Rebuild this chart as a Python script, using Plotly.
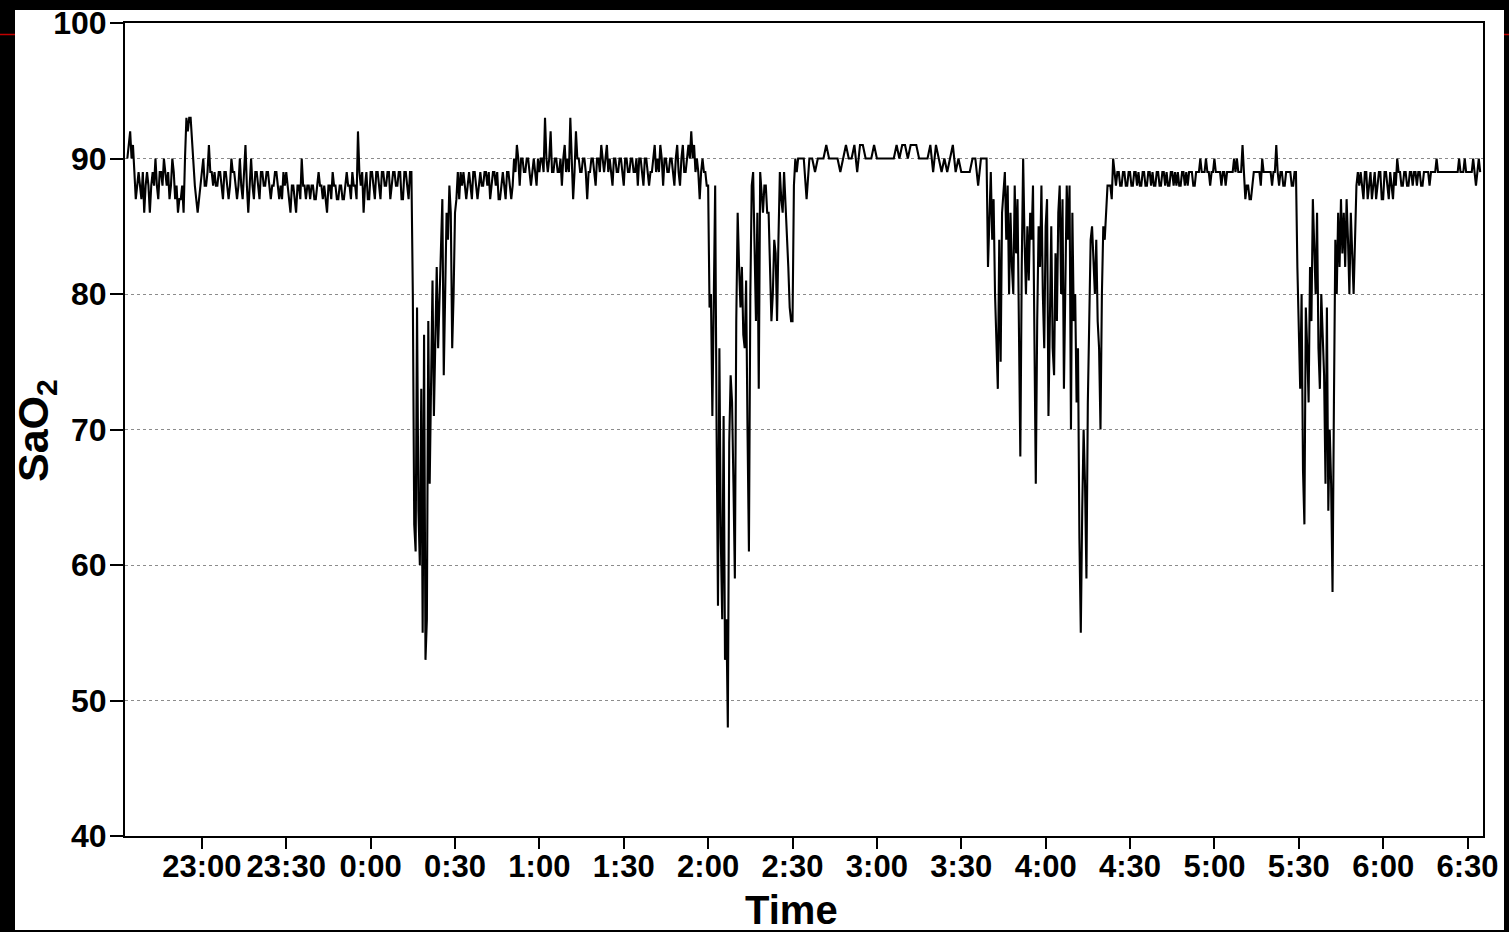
import pandas as pd
import plotly.graph_objects as go

# ---- data: SaO2 readings, recorded in segments (start time, sampling step, values) ----
seg1_start, seg1_step = "2020-01-01 22:33:30", "30s"
seg1 = [90, 91, 92, 90, 91, 89, 87, 88, 89, 88, 87, 89, 86, 88, 89, 88, 86, 88, 89, 88,
        90, 88, 87, 89, 89, 88, 90, 89, 88, 89, 87, 88, 90, 89, 87, 88, 86, 87, 87, 88,
        86, 90, 93, 92, 93, 93, 91, 89, 88, 87, 86, 87, 88, 89, 90, 88, 88, 89, 91, 89,
        89, 88, 89, 88, 88, 89, 89, 88, 87, 89, 89, 88, 87, 88, 90, 89, 89, 88, 87, 88,
        90, 88, 87, 89, 91, 88, 86, 88, 90, 88, 87, 89, 89, 88, 87, 89, 89, 88, 88, 89,
        89, 88, 87, 88, 88, 89, 89, 88, 87, 88, 87, 89, 88, 89, 88, 87, 86, 88, 88, 87,
        86, 88, 88, 87, 90, 88, 88, 87, 88, 88, 87, 88, 88, 87, 87, 88, 89, 88, 88, 87,
        88, 87, 86, 88, 88, 87, 89, 88, 88, 87, 87, 88, 88, 87, 87, 88, 89, 88, 88, 87,
        89, 88, 88, 87, 92, 89, 88, 89, 86, 88, 89, 87, 87, 89, 89, 88, 87, 89, 89, 88,
        87, 89, 89, 88, 88, 89, 89, 87, 88, 89, 89, 88, 88, 89, 89, 87, 87, 89, 89, 88,
        87, 89, 89]

dip1_start, dip1_step = "2020-01-02 00:15:00", "30s"
dip1 = [80, 63, 61, 79, 64, 60, 73, 55, 77, 53,
        56, 78, 66, 72, 81, 71, 76, 82, 76, 80,
        85, 87, 74, 80, 86, 84, 88, 86, 76, 80,
        86, 87, 89, 87, 89, 88]

seg2_start, seg2_step = "2020-01-02 00:33:00", "30s"
seg2 = [89, 88, 87, 88, 89, 88, 87, 89, 89, 88, 87, 88, 89, 88, 88, 89, 89, 88, 89, 87,
        88, 89, 89, 88, 89, 87, 87, 88, 89, 88, 87, 89, 89, 88, 87, 88, 90, 89, 91, 90,
        88, 90, 90, 89, 89, 90, 90, 89, 88, 89, 90, 89, 88, 90, 89, 90, 90, 89, 93, 90,
        89, 90, 92, 89, 89, 90, 90, 89, 89, 90, 88, 90, 91, 89, 90, 89, 93, 90, 87, 89,
        92, 90, 90, 89, 89, 90, 90, 89, 87, 89, 89, 90, 90, 89, 88, 90, 90, 89, 91, 90,
        89, 90, 91, 89, 90, 89, 88, 90, 90, 89, 89, 90, 90, 89, 88, 90, 90, 89, 89, 90,
        90, 89, 89, 90, 88, 90, 90, 89, 88, 90, 90, 89, 88, 89, 89, 90, 91, 89, 90, 89,
        91, 90, 88, 90, 90, 89, 89, 90, 90, 89, 88, 90, 91, 89, 88, 90, 91, 89, 89, 90,
        91, 90, 92, 90, 91, 89, 90, 89, 87, 89, 90, 89, 89, 88]

dip2_start, dip2_step = "2020-01-02 02:00:00", "30s"
dip2 = [88, 79, 80, 71, 80, 88, 70, 57, 76, 62,
        56, 71, 53, 56, 48, 69, 74, 72, 66, 59,
        78, 86, 82, 79, 82, 77, 76, 81, 70, 61,
        80, 88, 89, 84, 78, 86, 73, 89, 87, 86,
        88, 88, 86, 86, 82, 78, 80, 84, 83, 78,
        84, 89, 87, 86, 89, 87, 85, 82, 79, 78,
        78, 88, 90, 89, 90, 90]

seg3_start, seg3_step = "2020-01-02 02:33:00", "60s"
seg3 = [90, 90, 87, 90, 90, 89, 90, 90, 90, 91,
        90, 90, 90, 90, 89, 90, 91, 90, 90, 91,
        89, 91, 91, 90, 90, 90, 91, 90, 90, 90,
        90, 90, 90, 90, 91, 90, 91, 91, 90, 91,
        91, 91, 90, 90, 90, 90, 91, 89, 91, 90,
        89, 90, 89, 90, 91, 89, 90, 89, 89, 89,
        89, 90, 90, 88, 90, 90]

dip3_start, dip3_step = "2020-01-02 03:39:00", "30s"
dip3 = [90, 82, 86, 89, 84, 87, 80, 76, 73, 84,
        75, 86, 88, 89, 84, 88, 80, 86, 82, 80,
        88, 83, 87, 75, 68, 82, 90, 84, 80, 85,
        81, 86, 84, 88, 76, 66, 78, 85, 82, 88,
        80, 76, 85, 87, 71, 80, 85, 76, 74, 83,
        78, 86, 88, 80, 87, 73, 82, 88, 84, 88,
        70, 86, 78, 80, 72, 76, 62, 55, 64, 70,
        66, 59, 72, 80, 84, 85, 82, 80, 84, 78,
        76, 70, 80, 85, 84, 86, 88, 88]

seg4_start, seg4_step = "2020-01-02 04:23:00", "30s"
seg4 = [88, 87, 90, 89, 88, 89, 89, 88, 88, 89, 89, 88, 88, 89, 89, 88, 88, 89, 89, 88,
        89, 88, 88, 89, 89, 88, 88, 89, 89, 88, 89, 88, 88, 89, 89, 88, 88, 89, 89, 88,
        89, 88, 88, 89, 89, 88, 89, 88, 89, 88, 88, 89, 89, 88, 89, 88, 89, 89, 89, 88,
        88, 89, 89, 89, 90, 89, 89, 89, 90, 89, 89, 88, 89, 89, 90, 89, 89, 89, 89, 88,
        89, 89, 88, 89, 89, 89, 89, 89, 90, 89, 90, 89, 89, 89, 91, 89, 87, 88, 88, 87,
        87, 88, 89, 89, 89, 89, 89, 88, 90, 89, 89, 89, 89, 89, 89, 88, 89, 89, 91, 89,
        88, 89, 89, 88, 88, 89, 89, 89, 89, 88, 88, 89]

dip4_start, dip4_step = "2020-01-02 05:29:00", "30s"
dip4 = [89, 82, 78, 73, 80, 67, 63, 79, 76, 72,
        82, 78, 87, 84, 80, 86, 76, 73, 80, 77,
        74, 66, 79, 64, 70, 66, 58, 72, 84, 80,
        86, 82, 87, 83, 86, 82, 87, 84, 80, 86,
        83, 80, 84, 88, 89, 88]

seg5_start, seg5_step = "2020-01-02 05:52:00", "30s"
seg5 = [89, 88, 87, 89, 89, 87, 88, 89, 87, 88, 89, 87, 88, 89, 89, 87, 87, 89, 89, 88,
        87, 89, 88, 87, 89, 88, 90, 89, 89, 88, 88, 89, 89, 88, 88, 89, 89, 88, 89, 89,
        88, 89, 89, 88, 88, 89, 89, 89, 89, 88, 89, 89, 89, 89, 90, 89, 89, 89, 89, 89,
        89, 89, 89, 89, 89, 89, 89, 89, 89, 89, 90, 89, 89, 89, 90, 89, 89, 89, 89, 89,
        90, 89, 88, 89, 90, 89]

tick_times = ["2020-01-01 23:00", "2020-01-01 23:30", "2020-01-02 00:00", "2020-01-02 00:30",
              "2020-01-02 01:00", "2020-01-02 01:30", "2020-01-02 02:00", "2020-01-02 02:30",
              "2020-01-02 03:00", "2020-01-02 03:30", "2020-01-02 04:00", "2020-01-02 04:30",
              "2020-01-02 05:00", "2020-01-02 05:30", "2020-01-02 06:00", "2020-01-02 06:30"]
tick_labels = ["23:00", "23:30", "0:00", "0:30", "1:00", "1:30", "2:00", "2:30",
               "3:00", "3:30", "4:00", "4:30", "5:00", "5:30", "6:00", "6:30"]
y_ticks = [40, 50, 60, 70, 80, 90, 100]
x_range = ["2020-01-01 22:32:40", "2020-01-02 06:35:30"]

segments = [(seg1_start, seg1_step, seg1), (dip1_start, dip1_step, dip1),
            (seg2_start, seg2_step, seg2), (dip2_start, dip2_step, dip2),
            (seg3_start, seg3_step, seg3), (dip3_start, dip3_step, dip3),
            (seg4_start, seg4_step, seg4), (dip4_start, dip4_step, dip4),
            (seg5_start, seg5_step, seg5)]

times, values = [], []
for start, step, vals in segments:
    times.extend(pd.date_range(start=start, periods=len(vals), freq=step))
    values.extend(vals)

FONT = "Liberation Sans, Arial, Helvetica, sans-serif"

fig = go.Figure(go.Scatter(x=times, y=values, mode="lines",
                           line=dict(color="black", width=2.1),
                           hoverinfo="x+y", showlegend=False))

W, H = 1509, 932
L, R, T, B = 125, 26, 23, 96
pw, ph = W - L - R, H - T - B

def px(xp):
    return (xp - L) / pw

def py(yp):
    return (H - B - yp) / ph

fig.update_layout(
    width=W, height=H,
    margin=dict(l=L, r=R, t=T, b=B, pad=0, autoexpand=False),
    paper_bgcolor="black",
    plot_bgcolor="white",
    xaxis=dict(type="date", range=x_range, tickmode="array",
               tickvals=tick_times, ticktext=tick_labels, automargin=False,
               ticks="outside", ticklen=11, tickwidth=2, tickcolor="black",
               showline=True, linewidth=2, linecolor="black", mirror=True,
               showgrid=False, zeroline=False, ticklabelstandoff=-9,
               tickfont=dict(family=FONT, size=31, color="black", weight="bold")),
    yaxis=dict(range=[40, 100], tickmode="array", tickvals=y_ticks, automargin=False,
               ticks="outside", ticklen=13, tickwidth=2, tickcolor="black",
               showline=True, linewidth=2, linecolor="black", mirror=True,
               showgrid=True, gridcolor="#8c8c8c", gridwidth=1.4, griddash="dot",
               zeroline=False, ticklabelstandoff=-3,
               tickfont=dict(family=FONT, size=32, color="black", weight="bold")),
    shapes=[
        dict(type="rect", xref="paper", yref="paper", layer="below",
             x0=px(15), x1=px(1504), y0=py(930), y1=py(10),
             fillcolor="white", line=dict(width=0)),
        dict(type="line", xref="paper", yref="paper",
             x0=px(0), x1=px(15), y0=py(34.5), y1=py(34.5),
             line=dict(color="#c00000", width=1.5)),
        dict(type="line", xref="paper", yref="paper",
             x0=px(1504), x1=px(1509), y0=py(34.5), y1=py(34.5),
             line=dict(color="#c00000", width=1.5)),
    ],
    annotations=[
        dict(text="Time", xref="paper", yref="paper", x=px(791.5), y=py(910),
             xanchor="center", yanchor="middle", showarrow=False,
             font=dict(family=FONT, size=40, color="black", weight="bold")),
        dict(text="SaO<sub>2</sub>", xref="paper", yref="paper", x=px(36), y=py(431),
             xanchor="center", yanchor="middle", showarrow=False, textangle=-90,
             font=dict(family=FONT, size=43, color="black", weight="bold")),
    ],
)

fig.write_html("out.html")
